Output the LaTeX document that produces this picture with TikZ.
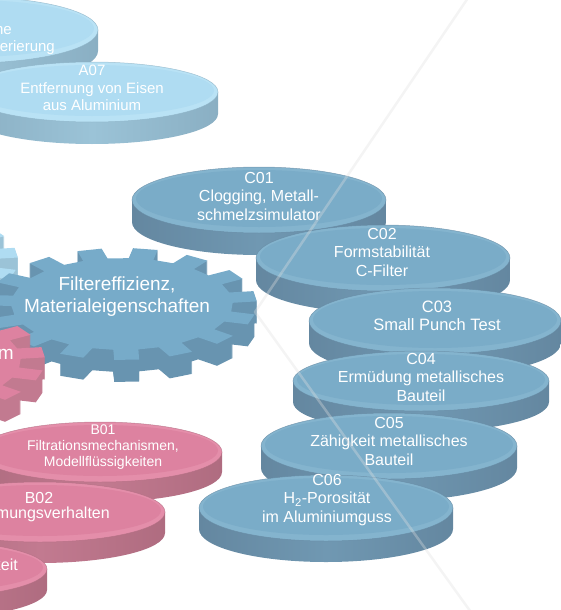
\documentclass[tikz,border=0pt]{standalone}
\usepackage{fontspec}
\setmainfont{Liberation Sans}
\definecolor{Ctop}{HTML}{7AACC8}
\definecolor{Crim}{HTML}{84B4CE}
\definecolor{Cside}{HTML}{7098B2}
\definecolor{CsideD}{HTML}{6487A0}
\definecolor{Btop}{HTML}{DD82A0}
\definecolor{Brim}{HTML}{E48EAA}
\definecolor{Bside}{HTML}{C27A90}
\definecolor{BsideD}{HTML}{AF6C80}
\definecolor{Atop}{HTML}{AFDCF2}
\definecolor{Arim}{HTML}{B9E2F5}
\definecolor{Aside}{HTML}{9BC3D7}
\definecolor{AsideD}{HTML}{8AAFC3}
\definecolor{Gtop}{HTML}{77ABC9}
\definecolor{Gside}{HTML}{6894B0}
\def\gr{0.82}\def\gph{8}\def\gat{5.3}\def\gar{6.5}
\newcommand\gearpath[4]{%
  ({#1+#3*\gr*cos(\gph-\gar)},{#2-#4*\gr*sin(\gph-\gar)})
  \foreach \k in {0,...,14}{
    -- ({#1+#3*\gr*cos(\gph+24*\k-\gar)},{#2-#4*\gr*sin(\gph+24*\k-\gar)})
    -- ({#1+#3*cos(\gph+24*\k-\gat)},{#2-#4*sin(\gph+24*\k-\gat)})
    -- ({#1+#3*cos(\gph+24*\k+\gat)},{#2-#4*sin(\gph+24*\k+\gat)})
    -- ({#1+#3*\gr*cos(\gph+24*\k+\gar)},{#2-#4*\gr*sin(\gph+24*\k+\gar)})
  } -- cycle}
\newcommand\mygear[7]{%
  \foreach \d in {#5,...,1}{\fill[#7] \gearpath{#1}{#2+\d}{#3}{#4};}
  \fill[#6] \gearpath{#1}{#2}{#3}{#4};}
\newcommand\disc[6]{%
  \shade[left color=#6sideD, right color=#6sideD, middle color=#6side]
    (#1-#3,#2) -- (#1-#3,#2+#5) arc[start angle=180,end angle=360,x radius=#3pt,y radius=#4pt] -- (#1+#3,#2) -- cycle;
  \fill[#6rim] (#1,#2) ellipse[x radius=#3pt, y radius=#4pt];
  \fill[#6top] (#1,#2-1.5) ellipse[x radius=#3pt-4pt, y radius=#4pt-4.5pt];
  \draw[#6sideD, line width=0.5pt, opacity=0.7] (#1,#2) ellipse[x radius=#3pt, y radius=#4pt];}
\tikzset{lbl/.style={text=white, align=center, inner sep=0pt},
  fA/.style={font=\fontsize{15}{17.5}\selectfont},
  fB/.style={font=\fontsize{14}{16}\selectfont},
  fBB/.style={font=\fontsize{16}{18}\selectfont},
  fC/.style={font=\fontsize{16}{18.5}\selectfont},
  fG/.style={font=\fontsize{19}{22}\selectfont},
  flare/.style={line width=2.5pt, color=gray!25, opacity=0.35, line join=round}}
\begin{document}
\begin{tikzpicture}[x=1pt,y=-1pt]
\useasboundingbox (0,0) rectangle (561,610);
\clip (0,0) rectangle (561,610);
% A discs
\disc{-30}{30}{128}{33}{21}{A}
\disc{92}{92}{126}{30}{22}{A}
% gears
\mygear{-110}{260}{128}{53}{20}{Atop}{Aside}
\mygear{122}{304}{135}{56}{22}{Gtop}{Gside}
\mygear{-90}{360}{135}{56}{22}{Btop}{Bside}
% C discs
\disc{259}{200}{127}{33}{22}{C}
\disc{383}{258}{127}{33}{22}{C}
\disc{435}{321}{126}{33}{22}{C}
\disc{421}{381}{128}{30}{21}{C}
\disc{389}{446}{128}{33}{22}{C}
\disc{326}{508}{127}{33}{21}{C}
% B discs
\disc{100}{452}{122}{30}{20}{B}
\disc{40}{512}{125}{30}{21}{B}
\disc{-80}{569}{127}{29}{21}{B}
% texts
\node[lbl,fA,anchor=mid east] (a06a) at (12,32) {ne};
\node[lbl,fA,anchor=mid east] (a06b) at (55,49) {erierung};
\node[lbl,fA] (a07) at (92,88) {A07\\Entfernung von Eisen\\aus Aluminium};
\node[lbl,fG] (gear) at (117,297) {Filtereffizienz,\\Materialeigenschaften};
\node[lbl,fG,anchor=mid east] (pg) at (14,357) {m};
\node[lbl,fC] (c01) at (259,196) {C01\\Clogging, Metall-\\schmelzsimulator};
\node[lbl,fC] (c02) at (382,252) {C02\\Formstabilität\\C-Filter};
\node[lbl,fC,font=\fontsize{16.5}{18.5}\selectfont] (c03) at (437,316) {C03\\Small Punch Test};
\node[lbl,fC] (c04) at (421,377) {C04\\Ermüdung metallisches\\Bauteil};
\node[lbl,fC] (c05) at (389,441) {C05\\Zähigkeit metallisches\\Bauteil};
\node[lbl,fC] (c06) at (327,500) {C06\\H\textsubscript{2}-Porosität\\im Aluminiumguss};
\node[lbl,fB] (b01) at (103,447) {B01\\Filtrationsmechanismen,\\Modellflüssigkeiten};
\node[lbl,fBB] (b02a) at (39,498) {B02};
\node[lbl,fBB,anchor=mid east] (b02b) at (110,516) {mungsverhalten};
\node[lbl,fBB,anchor=mid east] (b03) at (18,568) {keit};
% flare
\coordinate (f1) at (470,-5);
\coordinate (f2) at (255,312);
\coordinate (f3) at (473,615);
\draw[flare] (f1) -- (f2) -- (f3);
\end{tikzpicture}
\end{document}
